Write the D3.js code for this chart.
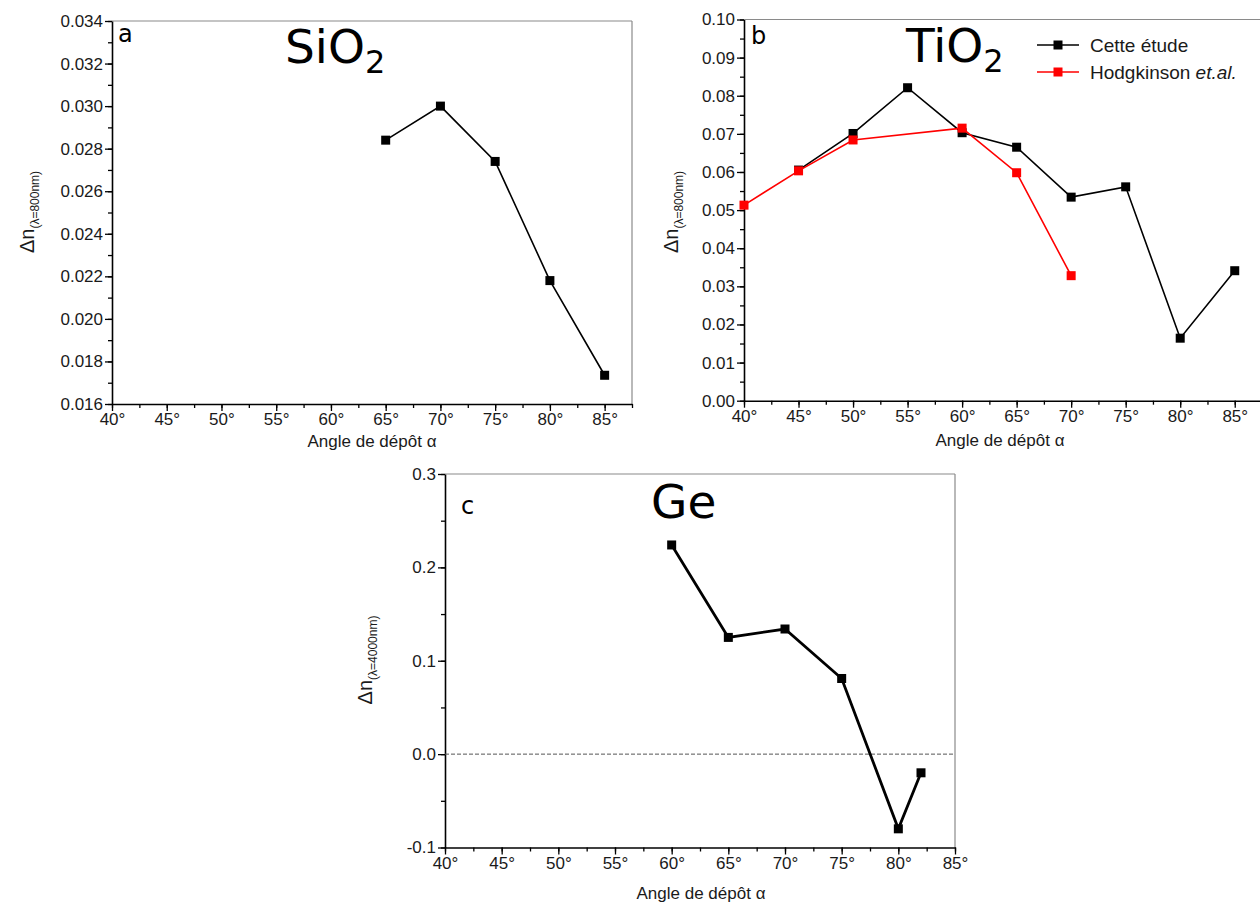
<!DOCTYPE html>
<html><head><meta charset="utf-8">
<script src="https://cdn.jsdelivr.net/npm/d3@7"></script>
<style>body{margin:0;background:#fff}svg{display:block}</style>
</head><body>
<svg id="chart" width="1260" height="905"></svg>
<script>
// ---- data ----
const sio2Angles = [65, 70, 75, 80, 85];
const sio2Values = [0.0284, 0.0300, 0.0274, 0.0218, 0.01735];

const tio2Angles = [45, 50, 55, 60, 65, 70, 75, 80, 85];
const tio2Values = [0.0605, 0.0701, 0.0821, 0.0703, 0.0665, 0.0534, 0.0561, 0.0164, 0.0341];

const hodgAngles = [40, 45, 50, 60, 65, 70];
const hodgValues = [0.0513, 0.0603, 0.0684, 0.0715, 0.0598, 0.0328];

const geAngles = [60, 65, 70, 75, 80, 82];
const geValues = [0.224, 0.125, 0.134, 0.081, -0.080, -0.020];

const xTicks = [40, 45, 50, 55, 60, 65, 70, 75, 80, 85];
const legendLabels = ["Cette étude", "Hodgkinson"];

const svg = d3.select("#chart");
const tickFont = "'Liberation Sans', Arial, sans-serif";
const titleFont = "'DejaVu Sans', Verdana, sans-serif";

function panel(cfg) {
  const g = svg.append("g");
  const x = d3.scaleLinear().domain(cfg.xDomain).range([cfg.left, cfg.right]);
  const y = d3.scaleLinear().domain(cfg.yDomain).range([cfg.bottom, cfg.top]);

  // frame top/right
  g.append("line").attr("x1", cfg.left).attr("x2", cfg.right).attr("y1", cfg.top).attr("y2", cfg.top)
    .attr("stroke", "#8a8a8a").attr("stroke-width", 1.2);
  g.append("line").attr("x1", cfg.right).attr("x2", cfg.right).attr("y1", cfg.top).attr("y2", cfg.bottom)
    .attr("stroke", "#8a8a8a").attr("stroke-width", 1.2);

  // minor ticks
  const yMinor = d3.range(cfg.yDomain[0], cfg.yDomain[1] + 1e-9, cfg.yMinorStep);
  const xMinor = d3.range(cfg.xDomain[0], cfg.xDomain[1] + 1e-9, 2.5);
  const xAxisMinor = d3.axisBottom(x).tickValues(xMinor).tickSize(4).tickFormat("");
  const yAxisMinor = d3.axisLeft(y).tickValues(yMinor).tickSize(4).tickFormat("");
  g.append("g").attr("transform", `translate(0,${cfg.bottom})`).call(xAxisMinor)
    .call(s => s.select(".domain").remove()).selectAll("line").attr("stroke", "#000").attr("stroke-width", 1.3);
  g.append("g").attr("transform", `translate(${cfg.left},0)`).call(yAxisMinor)
    .call(s => s.select(".domain").remove()).selectAll("line").attr("stroke", "#000").attr("stroke-width", 1.3);

  // major axes
  const xAxis = d3.axisBottom(x).tickValues(xTicks).tickSize(7).tickSizeOuter(0).tickPadding(2)
    .tickFormat(d => d + "°");
  const yAxis = d3.axisLeft(y).tickValues(cfg.yTicks).tickSize(7).tickSizeOuter(0).tickPadding(2)
    .tickFormat(d => d3.format(cfg.yFmt)(d).replace("−", "-"));
  const gx = g.append("g").attr("transform", `translate(0,${cfg.bottom})`).call(xAxis);
  const gy = g.append("g").attr("transform", `translate(${cfg.left},0)`).call(yAxis);
  [gx, gy].forEach(a => {
    a.select(".domain").attr("stroke", "#000").attr("stroke-width", 1.6);
    a.selectAll(".tick line").attr("stroke", "#000").attr("stroke-width", 1.3);
    a.selectAll("text").attr("font-family", tickFont).attr("font-size", 17).attr("fill", "#1a1a1a");
  });

  // axis titles
  g.append("text").attr("x", cfg.xTitle[0]).attr("y", cfg.xTitle[1]).attr("text-anchor", "middle")
    .attr("font-family", tickFont).attr("font-size", 17).attr("fill", "#1a1a1a")
    .text("Angle de dépôt α");
  const yt = g.append("text").attr("transform", `translate(${cfg.yTitle[0]},${cfg.yTitle[1]}) rotate(-90)`)
    .attr("text-anchor", "middle").attr("font-family", tickFont).attr("fill", "#1a1a1a");
  yt.append("tspan").attr("font-size", 20).text("Δn");
  yt.append("tspan").attr("font-size", 12).attr("dy", 5).text(cfg.ySub);

  // panel letter and material title
  g.append("text").attr("x", cfg.letter[0]).attr("y", cfg.letter[1]).attr("font-family", titleFont)
    .attr("font-size", 24).attr("fill", "#000").text(cfg.letterText);
  const tt = g.append("text").attr("x", cfg.title[0]).attr("y", cfg.title[1]).attr("font-family", titleFont)
    .attr("font-size", 47).attr("fill", "#000");
  tt.append("tspan").text(cfg.titleText);
  if (cfg.titleSub) tt.append("tspan").attr("font-size", 32).attr("dy", 10).text(cfg.titleSub);

  return {g, x, y};
}

function series(p, xs, ys, color, width, msize) {
  const pts = xs.map((a, i) => [a, ys[i]]);
  p.g.append("path").datum(pts)
    .attr("d", d3.line().x(d => p.x(d[0])).y(d => p.y(d[1])))
    .attr("fill", "none").attr("stroke", color).attr("stroke-width", width);
  p.g.selectAll(null).data(pts).enter().append("rect")
    .attr("x", d => p.x(d[0]) - msize / 2).attr("y", d => p.y(d[1]) - msize / 2)
    .attr("width", msize).attr("height", msize).attr("fill", color);
}

// ---- panel a ----
const pa = panel({
  left: 112, right: 632, top: 21, bottom: 404,
  xDomain: [40, 87.5], yDomain: [0.016, 0.034],
  yTicks: d3.range(0.016, 0.0341, 0.002), yMinorStep: 0.001, yFmt: ".3f",
  xTitle: [372, 447], yTitle: [34, 212], ySub: "(λ=800nm)",
  letter: [118, 42], letterText: "a", title: [285, 63], titleText: "SiO", titleSub: "2"
});
series(pa, sio2Angles, sio2Values, "#000", 1.6, 9);

// ---- panel b ----
const pb = panel({
  left: 744, right: 1262, top: 19.5, bottom: 400.7,
  xDomain: [40, 87.5], yDomain: [0, 0.10],
  yTicks: d3.range(0, 0.1001, 0.01), yMinorStep: 0.005, yFmt: ".2f",
  xTitle: [1000, 446], yTitle: [678, 212], ySub: "(λ=800nm)",
  letter: [751, 44], letterText: "b", title: [906, 62], titleText: "TiO", titleSub: "2"
});
series(pb, tio2Angles, tio2Values, "#000", 1.6, 9);
series(pb, hodgAngles, hodgValues, "#ff0000", 1.6, 9);

// legend
const legColors = ["#000", "#ff0000"];
legendLabels.forEach((lab, i) => {
  const ly = 45 + i * 27;
  pb.g.append("line").attr("x1", 1037).attr("x2", 1079).attr("y1", ly).attr("y2", ly)
    .attr("stroke", legColors[i]).attr("stroke-width", 1.6);
  pb.g.append("rect").attr("x", 1053.5).attr("y", ly - 4.5).attr("width", 9).attr("height", 9).attr("fill", legColors[i]);
  const t = pb.g.append("text").attr("x", 1090).attr("y", ly + 6.5).attr("font-family", tickFont)
    .attr("font-size", 19).attr("fill", "#1a1a1a").text(lab);
  if (i === 1) t.append("tspan").attr("font-style", "italic").text(" et.al.");
});

// ---- panel c ----
const pc = panel({
  left: 445, right: 955, top: 474, bottom: 847.5,
  xDomain: [40, 85], yDomain: [-0.1, 0.3],
  yTicks: [-0.1, 0, 0.1, 0.2, 0.3], yMinorStep: 0.05, yFmt: ".1f",
  xTitle: [701, 899], yTitle: [372, 660], ySub: "(λ=4000nm)",
  letter: [461, 514], letterText: "c", title: [651, 518], titleText: "Ge", titleSub: null
});
pc.g.append("line").attr("x1", pc.x(40)).attr("x2", pc.x(85)).attr("y1", pc.y(0)).attr("y2", pc.y(0))
  .attr("stroke", "#555").attr("stroke-width", 1).attr("stroke-dasharray", "4,2");
series(pc, geAngles, geValues, "#000", 2.8, 9);
</script>
</body></html>
